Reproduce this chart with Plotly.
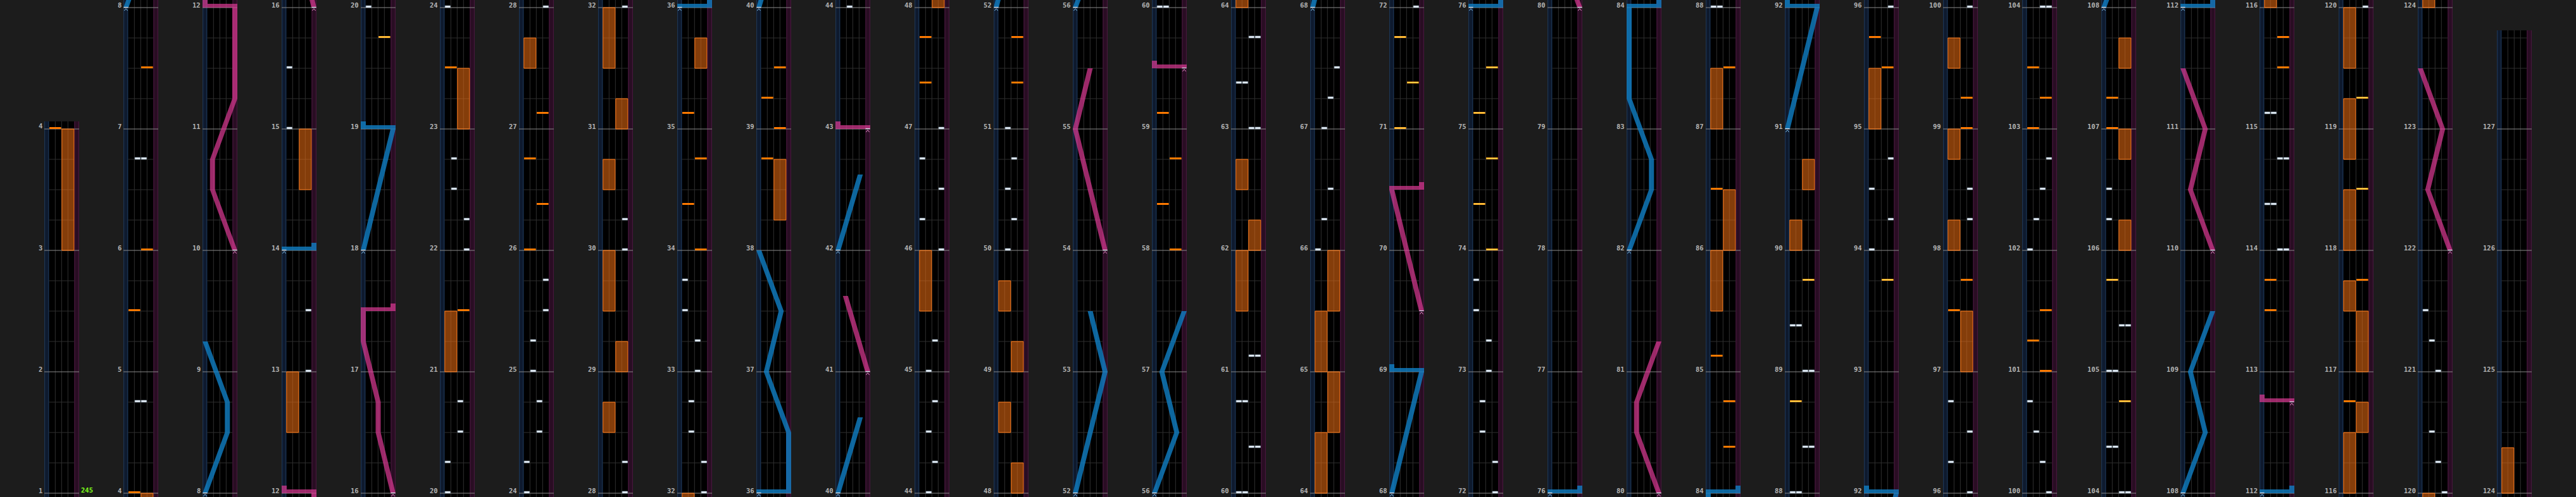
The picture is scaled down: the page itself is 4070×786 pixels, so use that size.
import plotly.graph_objects as go

# ---------------- data ----------------
BPM_LABEL = "245"
FIRST_MEASURE = 1
LAST_TOP = 127.8125          # end of the last column
N_COLS = 32

# BT chips: (measure, lane 1..4)
BT_CHIPS = [
    (4.75, 2), (4.75, 3), (6.75, 2), (6.75, 3),
    (13.0, 4), (13.5, 4), (15.0, 1), (15.5, 1),
    (20.0, 1), (20.25, 1), (20.5, 3), (20.75, 3), (22.0, 4), (22.25, 4), (22.5, 2), (22.75, 2), (24.0, 1),
    (24.25, 1), (24.5, 3), (24.75, 3), (25.0, 2), (25.25, 2), (25.5, 4), (25.75, 4), (28.0, 4),
    (28.25, 4), (30.0, 4), (30.25, 4), (32.0, 4),
    (32.25, 4), (32.5, 2), (32.75, 2), (33.0, 3), (33.25, 3), (33.5, 1), (33.75, 1),
    (44.0, 2),
    (44.25, 3), (44.5, 2), (44.75, 3), (45.0, 2), (45.25, 3), (46.0, 4), (46.25, 1), (46.5, 4), (46.75, 1), (47.0, 4),
    (50.0, 2), (50.25, 3), (50.5, 2), (50.75, 3), (51.0, 2),
    (60.0, 1), (60.0, 2),
    (60.375, 3), (60.375, 4), (60.75, 1), (60.75, 2), (61.125, 3), (61.125, 4),
    (63.0, 3), (63.0, 4), (63.375, 1), (63.375, 2), (63.75, 3), (63.75, 4),
    (66.0, 1), (66.25, 2), (66.5, 3), (67.0, 2), (67.25, 3), (67.5, 4),
    (72.0, 4),
    (72.25, 4), (72.5, 2), (72.75, 2), (73.0, 3), (73.25, 3), (73.5, 1), (73.75, 1),
    (88.0, 1), (88.0, 2),
    (88.375, 3), (88.375, 4), (89.0, 3), (89.0, 4), (89.375, 1), (89.375, 2),
    (94.0, 1), (94.25, 4), (94.5, 1), (94.75, 4), (96.0, 4),
    (96.25, 1), (96.5, 4), (96.75, 1), (98.25, 4), (98.5, 4), (100.0, 4),
    (100.25, 3), (100.5, 2), (100.75, 1), (102.0, 1), (102.25, 2), (102.5, 3), (102.75, 4), (104.0, 3), (104.0, 4),
    (104.375, 1), (104.375, 2), (105.0, 1), (105.0, 2), (105.375, 3), (105.375, 4), (106.25, 1), (106.5, 1),
    (114.0, 3), (114.0, 4), (114.375, 1), (114.375, 2), (114.75, 3), (114.75, 4), (115.125, 1), (115.125, 2),
    (120.0, 4),
    (120.25, 3), (120.5, 2), (121.0, 3), (121.25, 2), (121.5, 1),
]

# FX chips: (measure, side, bright)
FX_CHIPS = [
    (4.0, "L", 0), (5.5, "L", 0), (6.0, "R", 0), (7.5, "R", 0),
    (19.75, "R", 1),
    (21.5, "R", 0), (23.5, "L", 0),
    (26.0, "L", 0), (26.375, "R", 0), (26.75, "L", 0), (27.125, "R", 0),
    (34.0, "R", 0), (34.375, "L", 0), (34.75, "R", 0), (35.125, "L", 0),
    (38.75, "L", 0), (39.0, "R", 0), (39.25, "L", 0), (39.5, "R", 0),
    (47.375, "L", 0), (47.75, "L", 0),
    (51.375, "R", 0), (51.75, "R", 0),
    (58.0, "R", 0), (58.375, "L", 0), (58.75, "R", 0), (59.125, "L", 0),
    (71.0, "L", 1), (71.375, "R", 1), (71.75, "L", 1),
    (74.0, "R", 1), (74.375, "L", 1), (74.75, "R", 1), (75.125, "L", 1), (75.5, "R", 1),
    (84.375, "R", 0), (84.75, "R", 0), (85.125, "L", 0), (86.5, "L", 0), (87.5, "R", 0),
    (88.75, "L", 1), (89.75, "R", 1),
    (93.75, "R", 1), (95.5, "R", 0), (95.75, "L", 0),
    (97.5, "L", 0), (97.75, "R", 0), (99.0, "R", 0), (99.25, "R", 0),
    (101.0, "R", 0), (101.25, "L", 0), (101.5, "R", 0), (103.0, "L", 0), (103.25, "R", 0), (103.5, "L", 0),
    (104.75, "R", 1), (105.75, "L", 1), (107.0, "L", 0), (107.25, "L", 0),
    (113.5, "L", 0), (113.75, "L", 0), (115.5, "R", 0), (115.75, "R", 0),
    (116.75, "L", 0), (117.75, "R", 0), (118.5, "R", 1), (119.25, "R", 1),
]

# FX holds: (start, end, side)
FX_HOLDS = [
    (3.0, 4.0, "R"),
    (12.5, 13.0, "L"), (14.5, 15.0, "R"),
    (21.0, 21.5, "L"), (23.0, 23.5, "R"),
    (27.5, 27.75, "L"),
    (28.5, 28.75, "L"), (29.0, 29.25, "R"), (29.5, 30.0, "L"), (30.5, 30.75, "L"), (31.0, 31.25, "R"), (31.5, 32.0, "L"),
    (35.5, 35.75, "R"), (38.25, 38.75, "R"),
    (45.5, 46.0, "L"),
    (48.0, 48.25, "R"), (48.5, 48.75, "L"), (49.0, 49.25, "R"), (49.5, 49.75, "L"),
    (61.5, 62.0, "L"), (62.0, 62.25, "R"), (62.5, 62.75, "L"),
    (64.0, 64.5, "L"), (64.5, 65.0, "R"), (65.0, 65.5, "L"), (65.5, 66.0, "R"),
    (85.5, 86.0, "L"), (86.0, 86.5, "R"), (87.0, 87.5, "L"),
    (90.0, 90.25, "L"), (90.5, 90.75, "R"),
    (95.0, 95.5, "L"),
    (97.0, 97.5, "R"), (98.0, 98.25, "L"), (98.75, 99.0, "L"), (99.5, 99.75, "L"),
    (106.0, 106.25, "R"), (106.75, 107.0, "R"), (107.5, 107.75, "R"),
    (116.0, 116.5, "L"), (116.5, 116.75, "R"), (117.0, 117.5, "R"), (117.5, 117.75, "L"),
    (118.0, 118.5, "L"), (118.75, 119.25, "L"), (119.5, 120.0, "L"),
    (124.0, 124.375, "L"),
]

# Lasers: list of (measure, position 0..1); equal consecutive measures = slam
LASER_BLUE = [
    [(8.0, 0), (8.5, 0.75), (8.75, 0.75), (9.25, 0)],
    [(14.0, 0), (14.0, 1)],
    [(18.0, 0), (19.0, 1), (19.0, 0)],
    [(36.0, 0), (36.0, 1), (36.5, 1), (37.0, 0.25), (37.5, 0.75), (38.0, 0)],
    [(40.0, 0), (40.625, 0.75)],
    [(42.0, 0), (42.625, 0.75)],
    [(52.0, 0), (53.0, 1), (53.5, 0.5)],
    [(56.0, 0), (56.5, 0.75), (57.0, 0.25), (57.5, 1)],
    [(68.0, 0), (69.0, 1), (69.0, 0)],
    [(76.0, 0), (76.0, 1)],
    [(82.0, 0), (82.5, 0.75), (82.75, 0.75), (83.25, 0), (84.0, 0), (84.0, 1)],
    [(91.0, 0), (92.0, 1), (92.0, 0)],
    [(108.0, 0), (108.5, 0.75), (109.0, 0.25), (109.5, 1)],
    [(112.0, 0), (112.0, 1)],
]
LASER_PINK = [
    [(10.0, 1), (10.5, 0.25), (10.75, 0.25), (11.25, 1), (12.0, 1), (12.0, 0)],
    [(16.0, 1), (16.5, 0.5), (16.75, 0.5), (17.25, 0), (17.5, 0), (17.5, 1)],
    [(41.0, 1), (41.625, 0.25)],
    [(43.0, 1), (43.0, 0)],
    [(54.0, 1), (55.0, 0), (55.5, 0.5)],
    [(59.5, 1), (59.5, 0)],
    [(69.5, 1), (70.5, 0), (70.5, 1)],
    [(80.0, 1), (80.5, 0.25), (80.75, 0.25), (81.25, 1)],
    [(110.0, 1), (110.5, 0.25), (111.0, 0.75), (111.5, 0)],
    [(112.75, 1), (112.75, 0)],
    [(122.0, 1), (122.5, 0.25), (123.0, 0.75), (123.5, 0)],
]

# ---------------- geometry / style ----------------
FIG_W, FIG_H = 4070, 786
PX = 192.0                    # pixels per measure
COL_LEFT0, COL_STEP, COL_W = 70, 125, 55
EDGE_L, EDGE_R = 7.33, 47.33  # BT area inside a column (local px)
LANE_W = 10.0
LHALF = 4.0                   # half laser width (px)
PAD_B, PAD_T = 1 / 32, 1 / 16

BG = "#1c1c1c"
C_EDGE_L, C_EDGE_L_B = "#0e1a2e", "#1d3553"
C_EDGE_R, C_EDGE_R_B = "#290d23", "#46173c"
C_GRID = "#2f2f2f"
C_MEAS = "#8a8a8a"
C_BT = "#e6eef6"
C_FX = "#ff7a00"
C_FX_B = "#ffa21a"
C_HOLD = "rgba(240,112,18,0.55)"
C_HOLD_LINE = "#ff7a18"
C_BLUE = "rgba(16,128,198,0.80)"
C_PINK = "rgba(222,58,150,0.70)"
C_LABEL = "#b4b4b4"
LABEL_FONT = dict(family="DejaVu Sans Mono", size=10.5, color=C_LABEL, weight="bold")


def col_range(c):
    if c == 0:
        return FIRST_MEASURE - PAD_B, 4 + PAD_T
    if c == N_COLS - 1:
        return 4 * c - PAD_B, LAST_TOP
    return 4 * c - PAD_B, 4 * c + 4 + PAD_T


def rect(xs, ys, x0, x1, y0, y1):
    xs += [x0, x1, x1, x0, x0, None]
    ys += [y0, y0, y1, y1, y0, None]


def lx(p):
    return LHALF + (COL_W - 2 * LHALF) * p


def fx_x(side):
    return (EDGE_L, EDGE_L + 2 * LANE_W) if side == "L" else (EDGE_L + 2 * LANE_W, EDGE_R)


fig = go.Figure()
axes = {}
annotations = []


def add(xa, ya, xs, ys, **kw):
    if not xs:
        return
    fig.add_trace(go.Scatter(x=xs, y=ys, xaxis=xa, yaxis=ya, hoverinfo="skip",
                             showlegend=False, **kw))


def laser_polys(lasers, lo, hi):
    xs, ys = [], []
    starts = []
    for las in lasers:
        if las[-1][0] + PAD_T < lo or las[0][0] > hi:
            continue
        starts.append(las[0])
        for i in range(len(las) - 1):
            (m1, p1), (m2, p2) = las[i], las[i + 1]
            if m1 == m2:
                a, b = sorted([lx(p1), lx(p2)])
                rect(xs, ys, a - LHALF, b + LHALF, m1, m1 + 6 / PX)
                if i + 1 == len(las) - 1:
                    rect(xs, ys, lx(p2) - LHALF, lx(p2) + LHALF, m2, m2 + PAD_T)
            else:
                c1, c2 = lx(p1), lx(p2)
                xs += [c1 - LHALF, c1 + LHALF, c2 + LHALF, c2 - LHALF, c1 - LHALF, None]
                ys += [m1, m1, m2, m2, m1, None]
    return xs, ys, starts


for c in range(N_COLS):
    lo, hi = col_range(c)
    n = c + 1
    xa = "x" if n == 1 else f"x{n}"
    ya = "y" if n == 1 else f"y{n}"
    x0px = COL_LEFT0 + COL_STEP * c
    axes["xaxis" if n == 1 else f"xaxis{n}"] = dict(
        domain=[x0px / FIG_W, (x0px + COL_W) / FIG_W], range=[0, COL_W],
        visible=False, fixedrange=True, anchor=ya)
    axes["yaxis" if n == 1 else f"yaxis{n}"] = dict(
        domain=[0, min(1.0, (hi - lo) * PX / FIG_H)], range=[lo, hi],
        visible=False, fixedrange=True, anchor=xa)

    # lane background
    xs, ys = [], []
    rect(xs, ys, 0, COL_W, lo, hi)
    add(xa, ya, xs, ys, fill="toself", fillcolor="#000000", mode="lines", line=dict(width=0))
    xs, ys = [], []
    rect(xs, ys, 0, EDGE_L, lo, hi)
    add(xa, ya, xs, ys, fill="toself", fillcolor=C_EDGE_L, mode="lines", line=dict(width=0))
    xs, ys = [], []
    rect(xs, ys, EDGE_R, COL_W, lo, hi)
    add(xa, ya, xs, ys, fill="toself", fillcolor=C_EDGE_R, mode="lines", line=dict(width=0))
    add(xa, ya, [0.6, 0.6, None, EDGE_L - 0.6, EDGE_L - 0.6],
        [lo, hi, None, lo, hi], mode="lines", line=dict(color=C_EDGE_L_B, width=1.2))
    add(xa, ya, [EDGE_R + 0.6, EDGE_R + 0.6, None, COL_W - 0.6, COL_W - 0.6],
        [lo, hi, None, lo, hi], mode="lines", line=dict(color=C_EDGE_R_B, width=1.2))

    # grid: lane dividers + beat lines
    gx, gy = [], []
    for k in (1, 2, 3):
        gx += [EDGE_L + k * LANE_W] * 2 + [None]
        gy += [lo, hi, None]
    q = int(lo * 4) - 1
    while q / 4 <= hi:
        m = q / 4
        if lo <= m <= hi and q % 4 != 0:
            gx += [EDGE_L, EDGE_R, None]
            gy += [m, m, None]
        q += 1
    add(xa, ya, gx, gy, mode="lines", line=dict(color=C_GRID, width=1))

    # measure lines + labels
    mx, my = [], []
    m = int(lo)
    while m <= hi:
        if m >= lo:
            mx += [0, COL_W, None]
            my += [m, m, None]
            annotations.append(dict(
                xref="paper", yref=ya, x=(x0px - 1.2) / FIG_W, y=m + 4.5 / PX,
                xanchor="right", yanchor="middle", text=str(m), showarrow=False,
                font=LABEL_FONT))
        m += 1
    add(xa, ya, mx, my, mode="lines", line=dict(color=C_MEAS, width=1))

    # FX holds
    hx, hy = [], []
    for s, e, side in FX_HOLDS:
        if e < lo or s > hi:
            continue
        a, b = fx_x(side)
        rect(hx, hy, a + 0.5, b - 0.5, s, e)
    add(xa, ya, hx, hy, fill="toself", fillcolor=C_HOLD, mode="lines",
        line=dict(color=C_HOLD_LINE, width=1))

    # FX chips
    fx_n, fy_n, fx_b, fy_b, bl_x, bl_y = [], [], [], [], [], []
    for m, side, bright in FX_CHIPS:
        if m + 0.02 < lo or m > hi:
            continue
        a, b = fx_x(side)
        if bright:
            rect(fx_b, fy_b, a + 0.7, b - 0.7, m, m + 3 / PX)
            bl_x += [a + 1.5, b - 1.5, None]
            bl_y += [m + 1.5 / PX, m + 1.5 / PX, None]
        else:
            rect(fx_n, fy_n, a + 0.7, b - 0.7, m, m + 3 / PX)
    add(xa, ya, fx_n, fy_n, fill="toself", fillcolor=C_FX, mode="lines", line=dict(width=0))
    add(xa, ya, fx_b, fy_b, fill="toself", fillcolor=C_FX_B, mode="lines", line=dict(width=0))
    add(xa, ya, bl_x, bl_y, mode="lines", line=dict(color="#ffe060", width=1))

    # BT chips
    bx, by = [], []
    for m, lane in BT_CHIPS:
        if m + 0.02 < lo or m > hi:
            continue
        a = EDGE_L + (lane - 1) * LANE_W
        rect(bx, by, a + 0.8, a + LANE_W - 0.8, m, m + 3 / PX)
    add(xa, ya, bx, by, fill="toself", fillcolor=C_BT, mode="lines",
        line=dict(color="#9fb3c8", width=0.6))

    # lasers
    for lasers, col, chev in ((LASER_BLUE, C_BLUE, "#7db9e2"), (LASER_PINK, C_PINK, "#e48cc6")):
        xs, ys, starts = laser_polys(lasers, lo, hi)
        add(xa, ya, xs, ys, fill="toself", fillcolor=col, mode="lines", line=dict(width=0))
        cx, cy = [], []
        for m, p in starts:
            xc = lx(p)
            cx += [xc - 2.6, xc, xc + 2.6, None]
            cy += [m - 5 / PX, m - 1.5 / PX, m - 5 / PX, None]
        add(xa, ya, cx, cy, mode="lines", line=dict(color=chev, width=1))
        wx, wy = [], []
        for m, p in starts:
            xc = lx(p)
            wx += [xc - 3.5, xc + 3.5, None]
            wy += [m + 0.5 / PX, m + 0.5 / PX, None]
        add(xa, ya, wx, wy, mode="lines", line=dict(color="#dce8f4", width=1.2))

# BPM label
annotations.append(dict(xref="paper", yref="y", x=(COL_LEFT0 + COL_W + 1) / FIG_W,
                        y=FIRST_MEASURE + 5.5 / PX, xanchor="left", yanchor="middle",
                        text=BPM_LABEL, showarrow=False,
                        font=dict(family="DejaVu Sans Mono", size=10.5, color="#7dff1a", weight="bold")))

fig.update_layout(
    width=FIG_W, height=FIG_H,
    margin=dict(l=0, r=0, t=0, b=0, pad=0),
    paper_bgcolor=BG, plot_bgcolor="#000000",
    showlegend=False, annotations=annotations,
    **axes,
)
fig.write_html("out.html", config={"displayModeBar": False, "staticPlot": True},
               post_script="document.body.style.margin='0';document.body.style.overflow='hidden';"
                           "document.body.style.background='" + BG + "';")
